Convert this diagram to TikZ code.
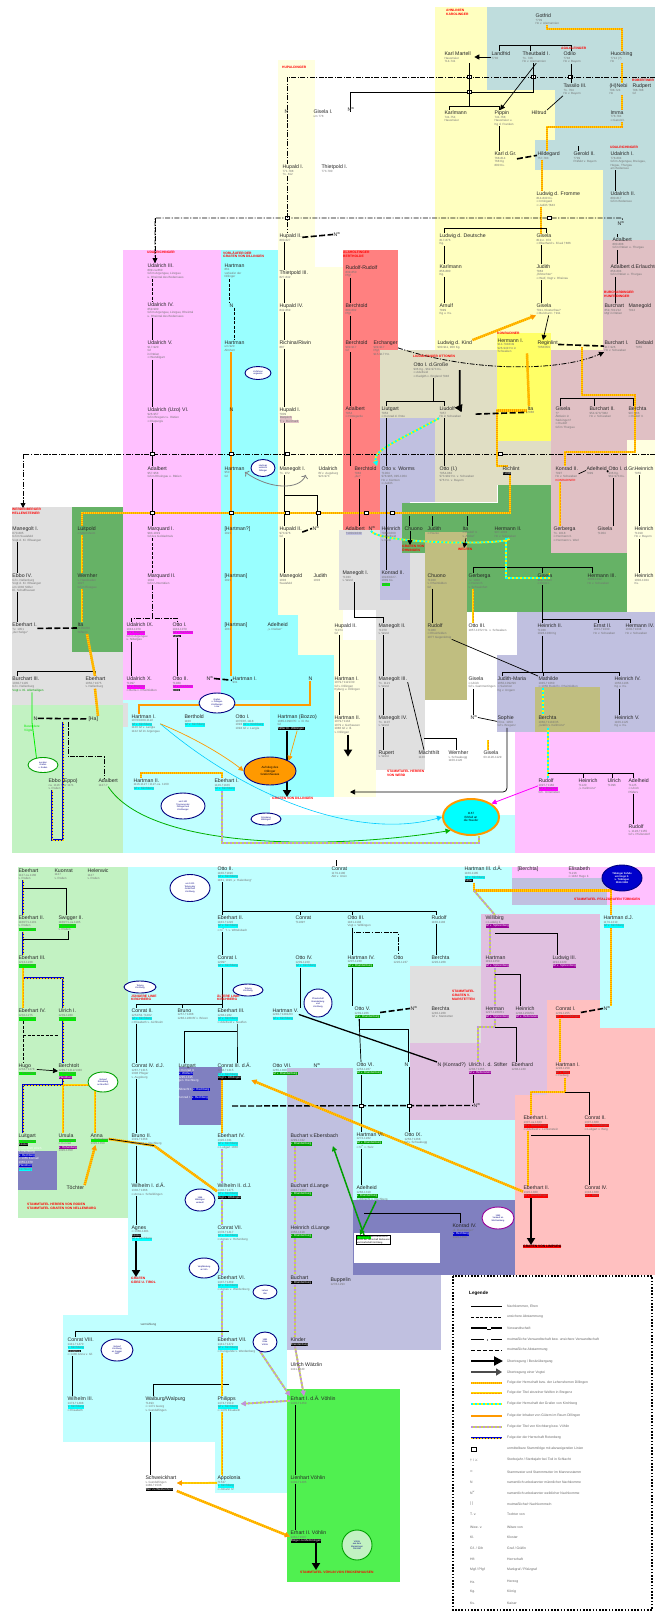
\documentclass[tikz,border=0pt]{standalone}
\usepackage{fontspec}
\setmainfont{Liberation Sans}
\newfontfamily\symfont{DejaVu Sans}
\usetikzlibrary{arrows.meta,shapes.geometric}
\pgfdeclarelayer{bg}
\pgfdeclarelayer{mid}
\pgfsetlayers{bg,mid,main}
% region colours
\definecolor{cream}{HTML}{FFFFE0}
\definecolor{kyel}{HTML}{FFFFC0}
\definecolor{steel}{HTML}{BFDDDD}
\definecolor{pinkA}{HTML}{FFC0FF}
\definecolor{cyanA}{HTML}{99FFFF}
\definecolor{lcyan}{HTML}{C0FFFF}
\definecolor{redA}{HTML}{FF8080}
\definecolor{mauve}{HTML}{E0C0C4}
\definecolor{olgray}{HTML}{E0DEC4}
\definecolor{byel}{HTML}{FFFF66}
\definecolor{lav}{HTML}{C0C0E0}
\definecolor{grnA}{HTML}{66B266}
\definecolor{olive}{HTML}{C0BE80}
\definecolor{lgray}{HTML}{E0E0E0}
\definecolor{lgrn}{HTML}{C2F2C2}
\definecolor{slate}{HTML}{8080C0}
\definecolor{salmon}{HTML}{FFC0C0}
\definecolor{mpink}{HTML}{E0C0E0}
\definecolor{bgrn}{HTML}{50F050}
% line and highlight colours
\definecolor{gA}{HTML}{FFD700}
\definecolor{gB}{HTML}{FF9900}
\definecolor{yg}{HTML}{C8D850}
\definecolor{vio}{HTML}{C090E0}
\definecolor{navy}{HTML}{000080}
\definecolor{hcy}{HTML}{00FFFF}
\definecolor{mag}{HTML}{FF00FF}
\definecolor{hgr}{HTML}{00EE00}
\definecolor{dgr}{HTML}{00A000}
\definecolor{hred}{HTML}{FF0000}
\definecolor{hpur}{HTML}{990099}
\definecolor{hblu}{HTML}{0000CC}
% helpers
\newcommand\nm[1]{{\fontsize{5.2}{5.6}\selectfont\color{black!85}#1}}
\newcommand\hc[2]{{\setlength{\fboxsep}{0.3pt}\colorbox{#1}{#2}}}
\newcommand\hw[1]{{\setlength{\fboxsep}{0.3pt}\colorbox{black}{\textcolor{white}{#1}}}}
\newcommand\pers[5]{\node[P] (#1) at (#2,#3) {\nm{#4}\\[0.4pt]#5};}
\newcommand\persn[4]{\node[P] (#1) at (#2,#3) {\nm{#4}};}
\newcommand\vl[3][con]{\draw[#1] ([xshift=5pt]#2.south west) -- ([xshift=5pt]#2.south west |- #3.north west);}
\newcommand\brk[3]{\draw[con] ([xshift=5pt]#1.south west) -- ([xshift=5pt,yshift=4pt]#1.south west |- #2.north west);
  \draw[con] ([xshift=5pt]#2.north west) -- ++(0,4pt) -| ([xshift=5pt]#3.north west);}
\newcommand\tk[1]{\draw[con] ([xshift=5pt]#1.north west) -- ++(0,4pt);}
\newcommand\jnc[3]{\node[jn] (#1) at (#2,#3) {};}
\begin{document}
\begin{tikzpicture}[x=1pt,y=-1pt,
  P/.style={anchor=north west,inner sep=0.3pt,align=left,font=\fontsize{3}{3.5}\selectfont,text=black!55},
  LB/.style={anchor=north west,inner sep=0pt,align=left,font=\fontsize{3.3}{3.8}\selectfont\bfseries,text=hred},
  LG/.style={anchor=west,inner sep=0pt,font=\fontsize{3.4}{4}\selectfont,text=black!60},
  con/.style={line width=0.7pt},
  dd/.style={line width=0.8pt,dash pattern=on 5pt off 1.5pt on 1.2pt off 1.5pt},
  dsh/.style={line width=0.7pt,dash pattern=on 3pt off 1.5pt},
  vsw/.style={line width=1.6pt,dash pattern=on 6pt off 2.5pt},
  gold/.style={line width=2.4pt,draw=gA,postaction={draw=gB,line width=2.4pt,dash pattern=on 1pt off 1pt}},
  ydl/.style={line width=1.8pt,draw=gA,postaction={draw=gB,line width=0.7pt,dash pattern=on 2pt off 1pt}},
  cyl/.style={line width=1.8pt,draw=yellow,postaction={draw=hcy,line width=1.8pt,dash pattern=on 2pt off 2pt}},
  orl/.style={line width=1.5pt,draw=gB},
  pyl/.style={line width=1.8pt,draw=yg,postaction={draw=vio,line width=1.8pt,dash pattern=on 2pt off 2pt}},
  bll/.style={line width=1.8pt,draw=hblu,postaction={draw=gA,line width=0.6pt,dash pattern=on 2pt off 1pt}},
  tip/.style={-{Triangle[length=5pt,width=5pt]}},
  big/.style={line width=1.8pt,-{Triangle[length=7pt,width=8pt]}},
  ell/.style={ellipse,draw=navy,line width=0.9pt,fill=white,inner sep=0.3pt,align=center,font=\fontsize{2.2}{2.5}\selectfont,text=navy},
  jn/.style={draw,fill=white,line width=0.5pt,minimum width=4pt,minimum height=3pt,inner sep=0pt},
  tbox/.style={draw,line width=0.6pt,fill=white,inner sep=0.6pt,anchor=north west,align=left,font=\fontsize{2.3}{2.7}\selectfont}]
\useasboundingbox (0,0) rectangle (655,1612);

% ---------------- coloured family areas ----------------
\begin{pgfonlayer}{bg}
\fill[white] (0,0) rectangle (655,1612);
\fill[cream] (278,60) rectangle (315,267);
\fill[cream] (278,267) rectangle (343,655);
\fill[cream] (334,640) rectangle (376,797);
\fill[pinkA] (123,250) rectangle (221,700);
\fill[cyanA] (221,250) rectangle (278,655);
\fill[cyanA] (221,615) rectangle (298,655);
\fill[cyanA] (221,655) rectangle (334,700);
\fill[cyanA] (270,700) rectangle (334,797);
\fill[lcyan] (123,700) rectangle (270,853);
\fill[lcyan] (270,815) rectangle (515,853);
\fill[lgray] (12,507) rectangle (123,705);
\fill[lgray] (63,703) rectangle (128,727);
\fill[grnA] (72,507) rectangle (123,652);
\fill[lgrn] (12,705) rectangle (123,853);
\fill[lgrn] (12,727) rectangle (63,853);
\fill[redA] (343,250) rectangle (398,350);
\fill[redA] (343,350) rectangle (380,542);
\fill[kyel] (435,7) rectangle (487,90);
\fill[kyel] (435,90) rectangle (555,140);
\fill[kyel] (435,140) rectangle (535,170);
\fill[kyel] (435,170) rectangle (603,350);
\fill[steel] (487,7) rectangle (655,90);
\fill[steel] (555,90) rectangle (655,140);
\fill[steel] (535,140) rectangle (655,170);
\fill[steel] (603,170) rectangle (655,240);
\fill[mauve] (603,240) rectangle (655,350);
\fill[mauve] (551,350) rectangle (655,555);
\fill[cream] (627,440) rectangle (655,612);
\fill[lgray] (339,530) rectangle (427,610);
\fill[lgray] (376,610) rectangle (425,770);
\fill[olgray] (380,350) rectangle (497,502);
\fill[olgray] (497,441) rectangle (551,485);
\fill[byel] (497,333) rectangle (551,441);
\fill[lav] (380,418) rectangle (435,502);
\fill[lav] (380,502) rectangle (410,600);
\fill[grnA] (402,503) rectangle (551,553);
\fill[grnA] (498,485) rectangle (551,503);
\fill[grnA] (467,553) rectangle (627,612);
\fill[olive] (425,532) rectangle (467,700);
\fill[lav] (517,612) rectangle (655,655);
\fill[lav] (497,655) rectangle (655,732);
\fill[olive] (535,687) rectangle (600,732);
\fill[pinkA] (515,732) rectangle (655,853);
% lower half
\fill[lgrn] (18,867) rectangle (128,1218);
\fill[lcyan] (128,867) rectangle (547,1200);
\fill[lcyan] (128,1200) rectangle (287,1315);
\fill[lcyan] (63,1315) rectangle (287,1442);
\fill[lcyan] (215,1442) rectangle (287,1493);
\fill[lcyan] (547,867) rectangle (655,1028);
\fill[pinkA] (512,867) rectangle (655,905);
\fill[lav] (512,878) rectangle (607,905);
\fill[lgray] (410,966) rectangle (481,1043);
\fill[mpink] (481,914) rectangle (600,1043);
\fill[mpink] (410,1043) rectangle (547,1120);
\fill[salmon] (547,1000) rectangle (600,1028);
\fill[salmon] (547,1028) rectangle (655,1095);
\fill[salmon] (515,1095) rectangle (655,1275);
\fill[lav] (287,1068) rectangle (353,1350);
\fill[lav] (353,1275) rectangle (441,1350);
\fill[slate] (353,1200) rectangle (515,1275);
\fill[white] (354,1233) rectangle (440,1263);
\fill[slate] (179,1067) rectangle (222,1125);
\fill[slate] (18,1151) rectangle (57,1190);
\fill[bgrn] (287,1389) rectangle (400,1582);
\fill[white] (453,1276) rectangle (652,1610);
\end{pgfonlayer}

% ---------------- family names ----------------
\node[LB] (lbKar) at (446,9) {AHNLINIEN\\KAROLINGER};
\node[LB] (lbAgi) at (561,47) {AGILOLFINGER};
\node[LB] (lbRob) at (632,79) {ROBERTINER};
\node[LB] (lbUd1) at (610,146) {UDALRICHINGER};
\node[LB] (lbHup) at (282,66) {HUPALDINGER};
\node[LB] (lbUd2) at (147,251) {UDALRICHINGER};
\node[LB] (lbVor) at (223,251) {VORLÄUFER DER\\GRAFEN VON DILLINGEN};
\node[LB] (lbAla) at (343,251) {ALAHOLFINGER\\BERTHOLDE};
\node[LB] (lbBur) at (604,291) {BURCHARDINGER\\HUNFRIDINGER};
\node[LB] (lbKon) at (497,332) {KONRADINER};
\node[LB] (lbLiu) at (413,355) {LIUDOLFINGER OTTONEN};
\node[LB] (lbWer) at (12,508) {WERDENBERGER\\HELLENSTEINER};
\node[LB] (lbJue) at (131,994) {JÜNGERE LINIE\\KIRCHBERG};
\node[LB] (lbAel) at (217,994) {ÄLTERE LINIE\\KIRCHBERG};

% Karolinger, Agilolfinger, Udalrichinger (top right)
\pers{gotfrid}{535}{13}{Gotfrid}{†709\\Hz v. Alemannien}
\pers{karlm}{444}{51}{Karl Martell}{Hausmeier\\714-741}
\pers{landfrid}{491}{51}{Landfrid}{†730}
\pers{theutbald}{522}{51}{Theutbald I.}{†n. 746\\Hz v. Alemannien}
\pers{odilo}{563}{51}{Odilo}{†748\\Hz v. Bayern}
\pers{huoching}{610}{51}{Huoching}{†712 (?)\\Hz}
\pers{tassilo}{563}{83}{Tassilo III.}{†n. 794\\Hz v. Bayern}
\pers{nebi}{609}{83}{(H)Nebi}{708-724\\Hz}
\pers{rudpert}{632}{83}{Rudpert}{708-788\\Gf}
\pers{karlmann}{444}{110}{Karlmann}{741-754\\Hausmeier}
\pers{pippin}{494}{110}{Pippin}{741-768\\Hausmeier u.\\Kg d. Franken}
\persn{hiltrud}{531}{110}{Hiltrud}
\pers{imma}{610}{110}{Imma}{778-784\\∞ Gerold I.}
\pers{karlgr}{494}{151}{Karl d.Gr.}{768-814\\768 Kg\\800 Ks.}
\pers{hildegard}{537}{151}{Hildegard}{757-783}
\pers{gerold}{573}{151}{Gerold II.}{†799\\Präfekt v. Bayern}
\pers{udI}{610}{151}{Udalrich I.}{778-804\\Gf im Argengau, Breisgau,\\Hegau, Thurgau\\am Bodensee}
\pers{ludfr}{536}{191}{Ludwig d. Fromme}{814-840 Ks.\\∞ Irmingard\\∞ Judith †843}
\pers{udII}{610}{191}{Udalrich II.}{800-817\\Gf im Bodensee}
\persn{nA1}{617}{221}{N\textsuperscript{w}}
\pers{luddt}{439}{233}{Ludwig d. Deutsche}{817-876\\Kg.}
\pers{gisela1}{536}{233}{Gisela}{819-n. 874\\∞ Eberhard v. Friaul †866}
\pers{adalbA}{612}{237}{Adalbert}{800-808\\Gf in Rätien u. Thurgau}
\pers{karlmann2}{439}{264}{Karlmann}{856-880\\Kg.}
\pers{judith}{536}{264}{Judith}{†863\\„Erbtochter“\\∞ Welf, Vogt v. Rheinau}
\pers{adalbE}{610}{264}{Adalbert d.Erlauchte}{858-894\\Gf in Rätien u. Thurgau}
\pers{arnulf}{439}{303}{Arnulf}{†899\\Kg u. Ks.}
\pers{gisela2}{536}{303}{Gisela}{†911, Klosterfrau?\\∞ Burchart I. †911}
\pers{burchart0}{604}{303}{Burchart}{859-†911/12\\Mgf in Rätien}
\pers{manegold0}{628}{303}{Manegold}{†912}

% Hupaldinger
\persn{nHa}{284}{109}{N}
\pers{giselaI}{313}{109}{Gisela I.}{um 778}
\persn{nHb}{347}{107}{N\textsuperscript{w}}
\pers{hupI}{282}{164}{Hupald I.}{771-788\\†n. 812}
\pers{thietI}{321}{164}{Thietpold I.}{773-790}
\pers{hupII}{279}{233}{Hupald II.}{800-827}
\persn{nHc}{333}{232}{N\textsuperscript{w}}
\pers{thietIII}{279}{270}{Thietpold III.}{827-842}
\pers{hupIV}{279}{303}{Hupald IV.}{842-869}
\pers{richina}{279}{340}{Richina/Riwin}{887}
\pers{hupIb}{279}{407}{Hupald I.}{†909\\\hc{mauve}{Dietpirch}\\\hc{mauve}{T. v. Burchard}}
\pers{manegI}{279}{466}{Manegolt I.}{†n. 972}
\pers{udalrichB}{318}{466}{Udalrich}{Bf v. Augsburg\\923-973}
\pers{hupIIb}{279}{526}{Hupald II.}{973-976\\Gf}
\persn{nHd}{312}{526}{N\textsuperscript{w}}
\pers{manegB}{279}{573}{Manegold}{1003\\Sualafeld}
\pers{judith2}{313}{573}{Judith}{1003}
\pers{adelheid}{267}{622}{Adelheid}{„v. Dießen“}

% Udalrichinger (pink)
\pers{udIII}{147}{263}{Udalrich III.}{809-ca.860\\Gf im Argengau, Linzgau\\u. Rheintal des Bodensees}
\pers{udIV}{147}{302}{Udalrich IV.}{859-900\\Gf im Argengau, Linzgau, Rheintal\\u. Rheintal des Bodensees}
\pers{udV}{147}{340}{Udalrich V.}{917-920\\Gf\\in Rätien\\∞ Wendilgart}
\pers{udVI}{147}{407}{Udalrich (Uzo) VI.}{926-957\\Gf in Bregenz u. Rätien\\∞ Diepurgis}
\pers{adalbU}{147}{466}{Adalbert}{957-958\\Gf im Rheingau u. Rätien}
\pers{marqI}{147}{526}{Marquard I.}{983-1019\\Gf des Goldachtals}
\pers{marqII}{147}{573}{Marquard II.}{1032\\Gf in Unterrätien}
\pers{udIX}{126}{622}{Udalrich IX.}{1043-1079\\\hc{mag}{Gf v. Bregenz}\\Gf im Argengau\\u. Nibelgau}
\pers{ottoIP}{172}{622}{Otto I.}{1043-1079\\\hc{mag}{Gf v. Buchhorn}\\\hw{Stifter}}
\pers{udX}{126}{676}{Udalrich X.}{†1097\\\hc{mag}{Gf v. Bregenz}\\∞ Berta v. Rheinfelden}
\pers{ottoIIP}{172}{676}{Otto II.}{†1089\\\hc{mag}{Gf v. Buchhorn}\\\hw{1089}}

% Vorläufer der Dillinger (cyan)
\pers{hart1}{224}{263}{Hartman}{861\\vorläufer der\\Dillinger}
\persn{nH1}{229}{303}{N}
\pers{hart2}{224}{340}{Hartman}{um 920\\Ahnherr}
\persn{nH2}{229}{407}{N}
\pers{hart3}{224}{466}{Hartman}{950\\Gf}
\pers{hart4}{224}{526}{[Hartman?]}{1021}
\pers{hart5}{224}{573}{[Hartman]}{1021}
\pers{hart6}{224}{622}{[Hartman]}{1031}
\persn{nH3}{206}{676}{N\textsuperscript{w}}
\pers{hartI}{232}{676}{Hartman I.}{931}
\persn{nH4}{308}{676}{N}

% Werdenberger, Nellenburger, Roden
\pers{manW}{12}{526}{Manegolt I.}{870-895\\Gf im Sualafeld\\Vogt d. Kl. Ellwangen}
\pers{ebboIV}{12}{573}{Ebbo IV.}{Gf v. Nellenburg\\Vogt d. Kl. Ellwangen\\um 1030 Stifter\\Kl. Schaffhausen}
\pers{eberI}{12}{622}{Eberhart I.}{†v. 1051\\„der Selige“}
\pers{luitpold}{77}{526}{Luitpold}{∞ Mörnsheim}
\pers{wernher}{77}{573}{Wernher}{v. Hausbaden\\1027\\Gf im Riesgau}
\pers{ita}{77}{622}{Ita}{†1050/60\\Stifterin}
\pers{burIII}{12}{676}{Burchart III.}{1030-†1105\\Gf v. Nellenburg\\\textcolor{dgr}{Vogt v. Kl. Allerheiligen}}
\pers{eberN}{85}{676}{Eberhart}{1050-†1075\\v. Nellenburg}
\persn{nW}{33}{716}{N}
\persn{haW}{88}{716}{[Ha]}
\pers{ebbo}{48}{778}{Ebbo (Eppo)}{ca. 1116 †vor 1171\\v. Roden}
\pers{adalbE2}{98}{778}{Adalbert}{1127-?}
\node[anchor=north west,inner sep=0pt,font=\fontsize{3.2}{3.8}\selectfont,text=hgr,align=left] (vogt) at (24,725) {Besondere\\Vögte};

% Kirchberg (first generations)
\pers{hartIk}{131}{714}{Hartman I.}{1070/1080-1122\\\hc{hcy}{Gf v. Kirchberg}\\1120 Gf v. Langla\\1122 Gf im Argengau}
\pers{berth}{184}{714}{Berthold}{1100\\\hc{hcy}{Gf v. Kirchberg}}
\pers{ottoIk}{235}{714}{Otto I.}{1070/87-1118\\1093 \hc{hcy}{Gf v. Kirchberg}\\1094 Gf v. Langla}
\pers{hartBz}{277}{714}{Hartman (Bozzo)}{1085-1099 Pfr. v. Ill. Bo\\Gf\\\hw{Stifter Kl. Wiblingen}}
\pers{hartIIk}{133}{778}{Hartman II.}{1116-1127 / 1127-ca. 1160\\\hc{hcy}{Gf v. Kirchberg}}
\pers{eberIk}{214}{778}{Eberhart I.}{1126-†1166\\\hc{hcy}{Gf v. Kirchberg}}

% Dillinger, Werd, Rheinfelden, Salier
\pers{hartIr}{334}{676}{Hartman I.}{1079-†1121/30\\Gf v. Dillingen\\Kyburg u. Dillingen}
\pers{manIII}{378}{676}{Manegolt III.}{†n. 1121\\v. Werd}
\pers{gisela3}{468}{676}{Gisela}{∞ Ulrich\\Gf v. Gammertingen}
\pers{judM}{497}{676}{Judith-Maria}{1050-1092/96\\∞ Salomon\\Kg v. Ungarn}
\pers{mathilde}{538}{676}{Mathilde}{1045-†1060\\∞ 1059 Rudolf v. Rheinfelden}
\pers{heinrIV}{614}{676}{Heinrich IV.}{1056-1106\\Kg u. Ks.}
\pers{hartIIr}{334}{715}{Hartman II.}{1079-†1134\\1079 v. Gerhausen\\1086 Gf v. Ill.\\v. Dillingen}
\pers{manIV}{378}{715}{Manegolt IV.}{†n. 1107\\v. Werd}
\persn{nG}{470}{715}{N\textsuperscript{w}}
\pers{sophie}{497}{715}{Sophie}{Prinz. 1050\\Gf v. Bregenz}
\pers{berchta2}{538}{715}{Berchta}{1060-†1133/35\\„Gräfin v. Kellmünz“}
\pers{heinrV}{614}{715}{Heinrich V.}{1106-1125\\Kg u. Ks.}
\pers{rupert}{378}{750}{Rupert}{v. Werd}
\pers{maech}{418}{750}{Mächthilt}{1120}
\pers{wernher2}{448}{750}{Wernher}{v. Schwabegg\\1100-1120}
\pers{gisela4}{483}{750}{Gisela}{03.1120-1129}
\pers{rudB}{538}{778}{Rudolf}{1097-†1160\\\hc{mag}{Gf v. Bregenz}\\Gf i. Unterrätien}
\pers{heinB}{578}{778}{Heinrich}{†1120\\„v. Kellmünz“}
\pers{ulrB}{607}{778}{Ulrich}{†1096}
\pers{adelB}{628}{778}{Adelheid}{†1125\\∞ Ulrich\\Pfäfers}
\pers{rudB2}{628}{824}{Rudolf}{v. 1126-†1155\\Gf v. Pfullendorf}

% Alaholfinger, Konradiner, Ottonen, Burchardinger
\pers{rudR}{345}{265}{Rudolf-Rudolf}{839-850\\Pfgf}
\pers{bercht1}{345}{303}{Berchtold}{880-892\\Pfgf}
\pers{bercht2}{345}{340}{Berchtold}{909-917\\Gf}
\pers{erchanger}{373}{340}{Erchanger}{909-917\\Pfgf\\915-917 Hz.}
\pers{adalbR}{345}{406}{Adalbert}{†954\\∞ Hildegarde}
\pers{ludK}{437}{340}{Ludwig d. Kind}{900-911, 900 Kg.}
\pers{hermI}{497}{338}{Hermann I.}{914-†948/49\\926-949 Hz in\\Schwaben}
\pers{reginlint}{537}{340}{Reginlint}{†958/959}
\pers{burI}{604}{340}{Burchart I.}{917-926\\Hz v. Schwaben}
\pers{diebald}{635}{340}{Diebald}{†955}
\pers{ottoGr}{413}{362}{Otto I. d.Große}{936 Kg., 962-973 Ks.\\∞ Adelheid\\∞ Eadgith v. England †946}
\pers{liutgart}{381}{406}{Liutgart}{†953\\∞ Konrad d. Rote}
\pers{liudolf}{439}{406}{Liudolf}{†957\\Hz in Schwaben}
\pers{ita1}{527}{406}{Ita}{†986}
\pers{giselaM}{555}{406}{Gisela}{†?\\Äbtissin in\\Säckingen?\\∞ Rudolf\\Gf im Thurgau}
\pers{burII}{589}{406}{Burchart II.}{954-973/†982\\Hz v. Schwaben}
\pers{berchta1}{628}{406}{Berchta}{907-966\\∞ Rudolf II.}
\pers{berchtR}{354}{466}{Berchtold}{†983\\„der“}
\pers{ottoW}{381}{466}{Otto v. Worms}{†1004\\978-985, 995-1004\\Hz v. Kärnten\\∞ Judith}
\pers{ottoIb}{439}{466}{Otto (I.)}{†954-982\\973-982 Hz. v. Schwaben\\976 Hz. v. Bayern}
\pers{richlint}{502}{466}{Richlint}{\hw{†1000}}
\pers{konII}{555}{466}{Konrad II.}{†997\\Hz v. Schwaben\\\textcolor{hred}{KONRADINER}}
\pers{adelM}{586}{466}{Adelheid}{†999}
\pers{ottoGr2}{608}{466}{Otto I. d.Gr.}{936 Kg.\\962-973 Ks.}
\pers{heinM}{634}{466}{Heinrich}{†955}
\pers{adalbR2}{345}{526}{Adalbert}{\hc{lav}{†1001/1030}}
\persn{nR2}{368}{526}{N\textsuperscript{w}}
\pers{heinr2}{381}{526}{Heinrich}{†989/1000\\∞ Adelheid\\v. Metz}
\persn{chuono}{404}{526}{Chuono}
\pers{judith3}{427}{526}{Judith}{∞ Hezzo}
\pers{ita2}{462}{526}{Ita}{∞ Rudolf II.\\v. Altdorf}
\pers{hermII}{494}{526}{Hermann II.}{997-1003\\Hz v. Schwaben}
\pers{gerberga}{553}{526}{Gerberga}{†n. 1018\\∞ Hermann II.\\∞ Hermann v. Werl}
\pers{gisela5}{597}{526}{Gisela}{†1004}
\pers{heinR}{634}{526}{Heinrich}{†1019\\Hz v. Bayern}
\pers{konII2}{381}{570}{Konrad II.}{1024/1027-\\1039 Ks.\\\hc{hgr}{Salier}}
\pers{chuono2}{427}{573}{Chuono}{†1020\\v. Rheinfelden\\Gf}
\pers{gerberga2}{468}{573}{Gerberga}{†v. 1020\\∞ Heinrich\\v. Schweinfurt}
\pers{gisela6}{537}{573}{Gisela}{989-†1043\\∞ Ernst I.}
\pers{hermIII}{587}{573}{Hermann III.}{1003-1012\\Hz v. Schwaben}
\pers{heinR2}{634}{573}{Heinrich}{1002-1024\\Ks.}
\pers{manIb}{342}{570}{Manegolt I.}{†1033\\v. Werd}
\pers{hupIIc}{334}{623}{Hupald II.}{†1074\\Gf}
\pers{manII}{378}{623}{Manegolt II.}{†1070\\v. Werd}
\pers{rudO}{427}{623}{Rudolf}{†1080\\∞ Rheinfelden\\1077 Gegenkönig}
\pers{ottoIII}{468}{623}{Otto III.}{1057-1072 Hz. v. Schwaben}
\pers{heinII}{537}{623}{Heinrich II.}{†1038\\1028-1039 Kg}
\pers{ernstII}{593}{623}{Ernst II.}{1015-†1030\\Hz v. Schwaben}
\pers{hermIV}{625}{623}{Hermann IV.}{1030-†1038\\Hz v. Schwaben}
\node[LB] (lbOhn) at (402,545) {GRAFEN VON\\ÖHNINGEN};
\node[LB] (lbWelf) at (458,548) {WELFEN};
\node[LB] (lbDil) at (272,797) {GRAFEN VON DILLINGEN};
\node[LB] (lbWerd) at (387,770) {STAMMTAFEL HERREN\\VON WERD};

% ---------------- lower half ----------------
% Roden (light green)
\pers{eberB}{18}{868}{Eberhart}{1127-ca.1160\\v. Roden}
\pers{kuonrat}{54}{868}{Kuonrat}{1127\\v. Roden}
\pers{helenwic}{87}{868}{Helenwic}{1127\\v. Roden}
\pers{eberIIg}{18}{915}{Eberhart II.}{1160/71-1191\\v. Roden\\\hc{hgr}{v. Rotenberg}}
\pers{swigII}{58}{915}{Swigger II.}{1160/71-ca.1185\\\hc{hgr}{v. Rotenberg}\\v. Roden}
\pers{eberIIIg}{18}{955}{Eberhart III.}{1213-1228\\\hc{hgr}{v. Rotenberg}}
\pers{eberIVg}{18}{1008}{Eberhart IV.}{1232-1275\\\hc{hgr}{v. Rotenberg}}
\pers{ulrIg}{58}{1008}{Ulrich I.}{1239-1280\\\hc{hgr}{v. Rotenberg}}
\pers{hugo}{18}{1063}{Hugo}{1234-†1278\\\hc{hgr}{v. Rotenberg}}
\pers{berchtolt}{58}{1063}{Berchtolt}{1239-†1312/1330\\\hc{hgr}{v. Rotenberg}\\\hc{hpur}{\textcolor{white}{Pfandherr}}}
\pers{luitG}{18}{1133}{Luitgart}{\hc{hgr}{v. Rotenberg}\\\hw{Kloster}\\\textcolor{white}{∞ um 1320 Ulrich}\\\textcolor{white}{v. Rechberg}\\\hc{hblu}{\textcolor{white}{v. Rechberg}}\\\textcolor{white}{∞ 1355 Konrad}\\\textcolor{white}{1355-1370}\\\hc{hblu}{\textcolor{white}{Pfandherr}}\\\hc{hcy}{Kirchberg}}
\pers{ursula}{58}{1133}{Ursula}{\hc{hgr}{v. Rotenberg}\\∞ Konrad\\\hc{hpur}{\textcolor{white}{v. Hohenberg}}\\1320-1350}
\pers{anna}{90}{1133}{Anna}{\hc{hgr}{v. Rotenberg}\\1320-1350}
\persn{toechter}{66}{1185}{Töchter}
\node[LB] (lbRod) at (27,1203) {STAMMTAFEL HERREN VON RODEN\\STAMMTAFEL GRAFEN VON NELLENBURG};

% Kirchberg (light cyan)
\pers{ottoIIk}{217}{866}{Otto II.}{1160-†1196\\\hc{hcy}{Gf v. Kirchberg}\\1181, 1196 „v. Halenberg“}
\pers{eberIIk}{217}{915}{Eberhart II.}{1183-†1220\\\hc{hcy}{Gf v. Kirchberg}\\∞ N\textsuperscript{w} T. v. Wittelsbach}
\pers{conrat1}{295}{915}{Conrat}{†1189?}
\pers{conIk}{217}{955}{Conrat I.}{1209?\\\hc{hcy}{Gf v. Kirchberg}}
\pers{ottoIVk}{295}{955}{Otto IV.}{1209-1220\\\hc{hcy}{Gf v. Kirchberg}}
\pers{conIIk}{131}{1008}{Conrat II.}{1252/53-†1282\\\hc{hcy}{Gf v. Kirchberg}\\∞ Elisabeth v. Aichheim}
\pers{bruno}{177}{1008}{Bruno}{1257-†1288\\1286-1288 Bf v. Brixen}
\pers{eberIIIk}{217}{1008}{Eberhart III.}{1238-1282\\\hc{hcy}{Gf v. Kirchberg}\\∞ Adelheid v. Neuffen}
\pers{hartV}{272}{1008}{Hartman V.}{1240-†1281/83\\\hc{hcy}{Gf v. Kirchberg}}
\pers{conIVk}{131}{1063}{Conrat IV. d.J.}{1287-†1315\\1308 Pfleger\\v. Augsburg}
\pers{luitK}{178}{1063}{Luitgart}{\textcolor{white}{∞ Konrad II.}\\\hc{hblu}{\textcolor{white}{v. Wolfach}}\\\textcolor{white}{1295-1315}\\\textcolor{white}{gen. Rechberg}\\[5pt]\textcolor{white}{Albrecht I.} \hc{hblu}{\textcolor{white}{v. Rechberg}}\\[5pt]\textcolor{white}{Konrad I.} \hc{hblu}{\textcolor{white}{v. Rechberg}}}
\pers{conIIIk}{217}{1063}{Conrat III. d.Ä.}{1268-†1315\\\hc{hcy}{Gf v. Kirchberg}\\\hw{Vogt v. Wiblingen}}
\pers{ottoVII}{272}{1063}{Otto VII.}{1265-1300\\\hc{dgr}{\textcolor{white}{Gf v. Brandenburg}}}
\persn{nK}{313}{1063}{N\textsuperscript{w}}
\pers{brunoII}{131}{1133}{Bruno II.}{1319-†1368\\∞ Luitgart v. Rechberg}
\pers{eberIVk}{217}{1133}{Eberhart IV.}{1320-1331\\\hc{hcy}{Gf v. Kirchberg}\\∞ Luitgart 1368}
\pers{buchEb}{290}{1133}{Buchart v.Ebersbach}{1299-1332\\\hc{dgr}{\textcolor{white}{v. Brandenburg}}}
\pers{wilI}{131}{1183}{Wilhelm I. d.Ä.}{1336-†1366\\∞ Anna v. Schelklingen}
\pers{wilII}{217}{1183}{Wilhelm II. d.J.}{1336-†1375\\\hc{hcy}{Gf v. Kirchberg}\\\hw{Vogt v. Wiblingen}}
\pers{buchL}{290}{1183}{Buchart d.Lange}{1343-†1387\\\hc{dgr}{\textcolor{white}{v. Brandenburg}}}
\pers{agnes}{131}{1225}{Agnes}{∞ 1369-1401\\\hw{Kloster}\\\hc{hcy}{Gf v. Kirchberg}}
\pers{conVII}{217}{1225}{Conrat VII.}{1378-†1417\\\hc{hcy}{Gf v. Kirchberg}\\∞ Agnes v. Hohenberg}
\pers{heinL}{290}{1225}{Heinrich d.Lange}{1356-1418\\\hc{dgr}{\textcolor{white}{v. Brandenburg}}}
\pers{eberVI}{217}{1275}{Eberhart VI.}{1437-†1469\\\hc{hcy}{Gf v. Kirchberg}\\∞ Agnes v. Werdenberg}
\pers{buch2}{290}{1275}{Buchart}{\hw{v. Brandenburg}}
\pers{conVIII}{67}{1337}{Conrat VIII.}{1441-†1470\\\hc{hcy}{v. Kirchberg}\\\hw{Kinderlos}\\∞ 1436 Anna v. Gf.}
\pers{eberVII}{217}{1337}{Eberhart VII.}{1441-†1472\\\hc{hcy}{Gf v. Kirchberg}\\∞ Kunigunde v. Werdenberg}
\pers{kinder}{290}{1337}{Kinder}{\hw{Brandenburg}}
\pers{ulrW}{290}{1362}{Ulrich Wätzlin}{1411-1440}
\pers{wilIII}{67}{1396}{Wilhelm III.}{1473-†1488\\\hc{hcy}{v. Kirchberg}\\∞ Elisabeth}
\pers{walburg}{145}{1396}{Walburg/Walpurg}{†1493\\∞ 1471 Georg\\v. Gundelfingen}
\pers{philipps}{217}{1396}{Philipps}{1473-†1510\\\hc{hcy}{Gf v. Kirchberg}\\∞ 1479 Elisabeth}
\pers{erhartI}{290}{1396}{Erhart I. d.Ä. Vöhlin}{1430-†1450}
\pers{schweick}{145}{1475}{Schweickhart}{v. Gundelfingen\\1480-†1536\\\hw{Herr zu Weißenhorn}}
\pers{appol}{217}{1475}{Appolonia}{†1537\\\hc{hcy}{v. Kirchberg}\\∞ Johann IV.}
\pers{lienhart}{290}{1475}{Lienhart Vöhlin}{1430-†1495}
\pers{erhartII}{290}{1530}{Erhart II. Vöhlin}{1462-†1507\\\hw{Bürger zu Memmingen}}
\node[LB] (lbGoe) at (131,1277) {GRAFEN\\GÖRZ U. TIROL};
\node[LB] (lbVoe) at (300,1570) {STAMMTAFEL VÖHLIN VON FRICKENHAUSEN};

% Montfort, Werdenberg, Marstetten (right side)
\pers{conratB}{331}{866}{Conrat}{1179-1180\\Abt v. Ursin}
\pers{hartIIIdA}{464}{866}{Hartman III. d.Ä.}{1160-1185\\\hc{hcy}{Gf v. Kirchberg}\\\hw{Stifter}}
\persn{berchtaB}{517}{866}{[Berchta]}
\pers{elisab}{568}{866}{Elisabeth}{†1216\\∞ 1182 Hugo II.}
\pers{ottoIII2}{347}{915}{Otto III.}{1181-1194\\Vogt v. Wiblingen}
\pers{rudK}{431}{915}{Rudolf}{1160-1183}
\pers{willibirg}{485}{915}{Willibirg}{∞ Ludwig II.\\\hc{hpur}{\textcolor{white}{Gf v. Spitzenberg}}}
\pers{hartdJ}{603}{915}{Hartman d.J.}{1179-1210\\\hc{hcy}{Gf v. Kirchberg}}
\pers{hartIV}{347}{955}{Hartman IV.}{1207-1230\\\hc{dgr}{\textcolor{white}{Gf v. Brandenburg}}}
\pers{ottoK}{393}{955}{Otto}{1220-1237}
\pers{berchtaK}{431}{955}{Berchta}{1220-1268}
\pers{hartW}{485}{955}{Hartman}{1194-1250\\\hc{hpur}{\textcolor{white}{Gf v. Spitzenberg}}}
\pers{ludIII}{552}{955}{Ludwig III.}{1194-1220\\\hc{hpur}{\textcolor{white}{Gf v. Spitzenberg}}}
\pers{ottoV}{354}{1006}{Otto V.}{1239-1266\\\hc{dgr}{\textcolor{white}{Gf v. Brandenburg}}}
\persn{nV}{410}{1006}{N\textsuperscript{w}}
\pers{berchta3}{431}{1006}{Berchta}{1240-1268\\\hc{lgray}{Gf v. Marstetten}}
\pers{herman}{485}{1006}{Herman}{1227-1260/61\\\hc{hpur}{\textcolor{white}{Gf v. Spitzenberg}}}
\pers{heinW}{515}{1006}{Heinrich}{1238-1258/59\\\hc{hpur}{\textcolor{white}{Gf v. Helfenstein}}}
\pers{conIs}{555}{1006}{Conrat I.}{1239-1255\\\hc{hred}{Gf v. Schelklingen}}
\persn{nS}{603}{1006}{N\textsuperscript{w}}
\pers{ottoVI}{356}{1062}{Otto VI.}{1253-1267\\\hc{dgr}{\textcolor{white}{Gf v. Brandenburg}}}
\persn{nO}{404}{1062}{N}
\persn{nKon}{437}{1062}{N (Konrad?)}
\pers{ulrStift}{468}{1062}{Ulrich I. d. Stifter}{1238-†1265\\\hc{hpur}{\textcolor{white}{Gf v. Helfenstein}}}
\pers{eberhard}{511}{1062}{Eberhard}{1238-1240}
\pers{hartIs}{555}{1062}{Hartman I.}{1228-1258\\\hc{hred}{Gf v. Berg}\\∞ Hedwig}
\persn{nU}{473}{1103}{N\textsuperscript{w}}
\pers{eberIs}{523}{1115}{Eberhart I.}{1307-ca.1323\\\hc{hred}{Gf v. Schelklingen}\\∞ Adelheid v. Lichtenstein}
\pers{conIIs}{584}{1115}{Conrat II.}{1307-1360\\\hc{hred}{Gf v. Schelklingen}\\∞ Luitgart v. Berg}
\pers{hartVI}{356}{1132}{Hartman VI.}{1272-1282\\\hc{dgr}{\textcolor{white}{Gf v. Brandenburg}}\\∞ N\textsuperscript{w} v. Sulz}
\pers{ottoIX}{404}{1132}{Otto IX.}{1256-†1268\\Gf v. Schwabegg}
\pers{adelK}{356}{1185}{Adelheid}{1268-1310\\\hc{dgr}{\textcolor{white}{v. Brandenburg}}\\∞ Albrecht v. Rechberg}
\pers{eberIIs}{523}{1185}{Eberhart II.}{1320-1360\\\hc{hred}{Gf v. Schelklingen}}
\pers{conIVs}{584}{1185}{Conrat IV.}{1318-1360\\\hc{hred}{Gf v. Berg}}
\pers{konIV}{452}{1223}{Konrad IV.}{„d. Rechberger“\\\hc{hblu}{\textcolor{white}{v. Rechberg}}\\1320-1350}
\pers{buppelin}{330}{1277}{Buppelin}{1278-1293}
\node[LB] (lbMar) at (452,990) {STAMMTAFEL\\GRAFEN V.\\MARSTETTEN};
\node[LB,fill=hred,text=black] (lbLim) at (523,1245) {GRAFEN VON LIMPURG};
\node[LB] (lbTue) at (574,897) {STAMMTAFEL PFALZGRAFEN TÜBINGEN};
\node[tbox] (wbox) at (356,1235) {\hc{hgr}{v. Ebersberg} ab 1290/1310 in\\Besitz der Herrschaft Illerbeuren\\und Grafschaft Kirchberg};

% ---------------- ellipses ----------------
\node[ell,minimum width=26pt,minimum height=13pt] (e1) at (258,373) {Vorfahren\\ungewiss};
\node[ell,minimum width=24pt,minimum height=17pt] (e2) at (263,468) {Hartman\\vielleicht\\Dillinger};
\node[ell,minimum width=36pt,minimum height=20pt] (e3) at (217,703) {Grafen\\v. Dillingen\\Kirchberger\\Linie};
\node[ell,draw=dgr,minimum width=30pt,minimum height=15pt] (e4) at (43,765) {aus den\\Grafen\\v. Roden};
\node[ell,minimum width=44pt,minimum height=26pt] (e5) at (183,806) {um 1100\\Trennung der\\Dillinger und\\Kirchberger};
\node[ell,minimum width=30pt,minimum height=12pt] (e6) at (266,819) {Gründung\\Wiblingen};
\node[ell,fill=gB,minimum width=52pt,minimum height=28pt,font=\fontsize{3}{3.5}\selectfont,text=black] (eAuf) at (270,771) {Aufstieg des\\Dillinger\\Grafenhauses};
\node[ell,fill=hcy,draw=gB,line width=2pt,minimum width=56pt,minimum height=36pt,font=\fontsize{3}{3.5}\selectfont,text=black] (e1167) at (471,817) {1167\\Erbfall an\\die Staufer};
\node[ell,fill=hblu,minimum width=40pt,minimum height=26pt,text=white,font=\fontsize{2.6}{3}\selectfont\bfseries] (eTue) at (622,878) {Tübinger Fehde\\um Hugo II.\\v. Tübingen\\1164-1166};
\node[ell,minimum width=40pt,minimum height=27pt] (e7) at (190,888) {um 1200\\Teilung der\\Grafschaft\\Kirchberg};
\node[ell,minimum width=32pt,minimum height=12pt] (e8) at (140,987) {Teilung\\Kirchberg};
\node[ell,minimum width=30pt,minimum height=12pt] (e9) at (248,990) {Teilung\\Kirchberg};
\node[ell,minimum width=28pt,minimum height=28pt] (e10) at (318,1003) {Pfandschaft\\Brandenburg\\und\\Kirchberg};
\node[ell,draw=dgr,minimum width=30pt,minimum height=20pt] (e11) at (103,1082) {Verkauf\\Rotenberg\\an Montfort};
\node[ell,minimum width=30pt,minimum height=22pt] (e12) at (200,1200) {1366\\Wiblingen\\verkauft};
\node[ell,minimum width=30pt,minimum height=20pt] (e13) at (204,1268) {Verpfändung\\an Ulm};
\node[ell,minimum width=24pt,minimum height=14pt] (e14) at (265,1292) {Lehen\\Ulm};
\node[ell,minimum width=32pt,minimum height=22pt] (e15) at (117,1350) {Verkauf\\Kirchberg\\an Fugger\\1507};
\node[ell,minimum width=24pt,minimum height=20pt] (e16) at (265,1342) {1481\\Erbe\\Vöhlin};
\node[ell,draw=hpur,minimum width=32pt,minimum height=22pt] (e17) at (498,1218) {1343\\Verkauf an\\Württemberg};
\node[ell,draw=dgr,fill=lgrn,minimum width=30pt,minimum height=30pt] (e18) at (357,1545) {Vöhlin\\aus dem\\Memminger\\Patriziat};

% ---------------- connectors ----------------
\begin{pgfonlayer}{mid}
% upper dash-dot line (Hupaldinger ancestry)
\coordinate (l1e) at (655,77);
\coordinate (l1w) at (287,77);
\draw[dd] (l1e) -- (l1w) -- ([xshift=5pt]hupI.north west);
\jnc{jk1}{469}{77}\jnc{jk2}{533}{77}\jnc{jk3}{570}{77}
\jnc{jk4}{469}{92}
\draw[con] ([xshift=25pt]karlm.south west) -- ([xshift=25pt,yshift=4pt]karlm.south west |- karlmann.north west);
\draw[con] ([xshift=5pt]karlmann.north west) -- ++(0,4pt) -| ([xshift=5pt]pippin.north west);
\draw[con] (jk4) -| ([xshift=3pt]nHb.south west);
\draw[con] ([xshift=11pt]theutbald.south west) |- (jk4);
\draw[con] ([xshift=8pt]landfrid.north west) -- ++(0,6pt) -| ([xshift=8pt]odilo.north west);
\draw[con] ([xshift=8pt]theutbald.north west) -- ++(0,6pt);
\draw[con,tip] ([yshift=-6pt]landfrid.north west) -- ([xshift=3pt,yshift=-6pt]karlm.north east);
\draw[con,tip] (theutbald.south) -- ([xshift=6pt]pippin.north west);
\draw[con] ([xshift=8pt]odilo.south west) -- ([xshift=8pt]tassilo.north west);
\draw[con] (tassilo.south west) -- (hiltrud.north east);
\draw[gold] ([xshift=12pt]gotfrid.south west) -- ++(0,-4pt) -| ([xshift=12pt]huoching.north west);
\draw[gold] ([xshift=12pt]huoching.south west) -- ([xshift=13pt]nebi.north west);
\draw[gold] ([xshift=13pt]nebi.south west) -- ([xshift=12pt]imma.north west);
\draw[gold] ([xshift=12pt]imma.south west) -- ++(0,-5pt) -| ([xshift=10pt]hildegard.north west);
\draw[con] ([xshift=5pt]gerold.north west) -- ++(0,5pt);
\vl[con]{udI}{udII}
\vl[gold]{hildegard}{ludfr}
\draw[vsw] (karlgr.east) -- (hildegard.west);
\vl[con]{pippin}{karlgr}
\vl[gold]{ludfr}{gisela1}
\draw[con] ([xshift=5pt]luddt.north west) -- ++(0,5pt) -| ([xshift=10pt]gisela1.north west);
\vl[con]{luddt}{karlmann2}
\vl[con]{karlmann2}{arnulf}
\vl[con]{gisela1}{judith}
\vl[con]{judith}{gisela2}
\vl[con]{adalbE}{burchart0}
\draw[con] ([xshift=5pt]adalbA.north west) -- ++(0,3pt);
\vl[con]{adalbA}{adalbE}
\draw[gold,tip] (ludK.north east) -- (gisela2.south west);
\draw[con,tip] (gisela2.south) -- ([xshift=6pt]reginlint.north west);
\draw[vsw] (reginlint.east) -- (burI.west);
\draw[dd,tip] (erchanger.east) .. controls (470,372) and (560,372) .. (burI.south west);
% second dash-dot line
\coordinate (l2w) at (155,218);
\coordinate (l2e) at (622,218);
\draw[dd] ([xshift=8pt]udIII.north west) -- (l2w) -- (l2e) -- ([xshift=6pt]nA1.north west);
\draw[dd,tip] (l2w) -- ([xshift=8pt]udIII.north west);
\jnc{jm1}{287}{218}\jnc{jm2}{549}{218}
\draw[dd] ([xshift=5pt]hupI.south west) -- ([xshift=8pt]hupII.north west);
\draw[vsw] (hupII.east) -- (nHc.west);
\vl[con]{hupII}{thietIII}
\vl[con]{thietIII}{hupIV}
\vl[con]{hupIV}{richina}
\vl[con]{richina}{hupIb}
\vl[con]{hupIb}{manegI}
\vl[con]{manegI}{hupIIb}
\vl[con]{hupIIb}{manegB}
\draw[vsw] (hupIIb.east) -- (nHd.west);
\draw[con] ([xshift=5pt]manegI.south west) ++(0,-20pt) -| ([xshift=5pt]nHd.north west);
% Udalrichinger
\vl[dsh]{udIII}{udIV}
\vl[con]{udIV}{udV}
\vl[con]{udV}{udVI}
\vl[con]{udVI}{adalbU}
\vl[con]{adalbU}{marqI}
\vl[dsh]{marqI}{marqII}
\draw[dd] ([xshift=5pt]marqII.south west) -- ([xshift=5pt,yshift=4pt]marqII.south west |- udIX.north west);
\draw[dd] ([xshift=5pt]udIX.north west) -- ++(0,4pt) -| ([xshift=5pt]ottoIP.north west);
\vl[con]{udIX}{udX}
\vl[con]{ottoIP}{ottoIIP}
% Hartman column
\vl[dsh]{hart1}{nH1}
\vl[dsh]{nH1}{hart2}
\draw[orl] ([xshift=7pt]hart2.south west) -- ([xshift=7pt]hart2.south west |- hartI.north west);
\draw[con,<->,gray,line width=0.8pt] (hart3.east) .. controls (270,490) and (300,490) .. (manegI.south east);
% third dash-dot line
\coordinate (l3w) at (23,454);
\coordinate (l3e) at (655,454);
\draw[dd] (l3e) -- (l3w);
\draw[dd,tip] (l3w) -- ([xshift=11pt]lbWer.north west);
\jnc{jl1}{152}{454}\jnc{jl2}{231}{454}\jnc{jl3}{287}{454}\jnc{jl4}{500}{454}
% main gold line of the Dillingen succession
\coordinate (gy) at (82,513);
\draw[gold] ([xshift=8pt]richlint.south west) |- (gy) -- ([xshift=5pt]luitpold.north west);
\jnc{jg1}{152}{513}\jnc{jg2}{231}{513}\jnc{jg3}{287}{513}\jnc{jg4}{318}{513}\jnc{jg5}{366}{513}\jnc{jg6}{392}{513}
\foreach \c in {heinr2,chuono,judith3,ita2} {\draw[con] ([xshift=5pt]\c.north west) -- ++(0,10pt);}
\draw[gold] (ita1.west) -- ++(-30pt,0) |- ([xshift=6pt]richlint.north west);
\draw[gold] ([xshift=30pt]hermI.south west) -- ([xshift=2pt]ita1.north west);
\draw[cyl,tip] (liudolf.south west) .. controls (400,440) and (372,450) .. (berchtR.north east);
\draw[cyl] ([xshift=3pt]nR2.south west) .. controls (380,545) and (520,545) .. (hermII.south);
% Werdenberger
\vl[con]{manW}{ebboIV}
\vl[con]{ebboIV}{eberI}
\draw[vsw] (eberI.east) -- (ita.west);
\vl[ydl]{luitpold}{wernher}
\vl[ydl]{wernher}{ita}
\draw[con] ([xshift=5pt]burIII.north west) -- ++(0,5pt) -| ([xshift=10pt]eberN.north west);
\draw[gold] ([xshift=10pt]ita.south west) -- ([xshift=10pt]eberN.north west);
\draw[gold] ([xshift=10pt]eberN.south west) -- ([xshift=10pt]haW.north west);
\draw[vsw] (nW.east) -- (haW.west);
\draw[bll] ([xshift=-25pt]haW.south west) -- ++(0,-118pt) -| ([xshift=4pt]ebbo.south west);
\draw[dd] ([xshift=-20pt]haW.south west) -- ++(0,-35pt) -| ([xshift=6pt]adalbE2.north west);
\draw[hgr,line width=0.8pt,tip] ([xshift=20pt]burIII.south west) -- ++(0,-30pt) -- ([xshift=6pt]e4.south west);
% Kirchberg beginnings
\coordinate (oc1) at (310,705);
\draw[orl] ([xshift=8pt]hartIk.north west) |- (oc1) -- ([xshift=2pt]nH4.south west);
\draw[vsw] (nH3.east) -- (hartI.west);
\draw[gold] ([xshift=8pt]hartIIk.north west) -- ++(0,5pt) -| ([xshift=8pt]eberIk.north west);
\draw[big] ([xshift=10pt]hartBz.south west) -- ([xshift=10pt]hartBz.south west |- lbDil.north west);
\draw[hcy!80!blue,line width=0.6pt,tip] (hartIk.east) .. controls (250,800) and (360,840) .. (e1167.west);
\draw[dgr!80!hgr,line width=0.8pt,tip] (adalbE2.south) .. controls (150,850) and (330,850) .. (e1167.south west);
\draw[gB,line width=0.7pt,tip] (hartIk.east) .. controls (200,740) and (230,760) .. (eAuf.west);
\draw[gB,line width=0.7pt,tip] (hartBz.south) -- (eAuf.north east);
\coordinate (pc1) at (479,843);
\draw[pyl] ([xshift=8pt]eberIk.south west) |- (pc1) -- ([xshift=8pt]e1167.south);
% Dillingen / Werd / Salier
\vl[con]{hupIIc}{hartIr}
\vl[con]{hartIr}{hartIIr}
\draw[big] ([xshift=14pt]hartIIr.south west) -- ++(0,-22pt);
\draw[con] ([xshift=12pt]manIb.south west) |- ([xshift=5pt,yshift=6pt]manII.north west) -- ([xshift=5pt]manII.north west);
\vl[con]{manII}{manIII}
\vl[con]{manIII}{manIV}
\vl[con]{manIV}{rupert}
\draw[con] (manIII.east) -- ([xshift=6pt]maech.north west);
\draw[con] ([xshift=6pt]maech.north west) ++(0,12pt) -| ([xshift=8pt]wernher2.north west);
\coordinate (sa) at (350,792);
\draw[con,tip,rounded corners=4pt] ([xshift=10pt]sophie.south west) |- (sa);
\draw[con] (rudO.south east) -- (mathilde.north west);
\brk{heinII}{judM}{heinrIV}
\tk{mathilde}
\vl[con]{heinrIV}{heinrV}
\vl[cyl]{mathilde}{berchta2}
\draw[cyl] ([xshift=10pt]berchta2.south west) -- ([xshift=10pt]rudB.north west);
\draw[con] ([xshift=10pt]rudB.north west) ++(0,5pt) -| ([xshift=5pt]adelB.north west);
\tk{heinB}\tk{ulrB}
\vl[con]{adelB}{rudB2}
\draw[mag,line width=0.8pt,tip] (rudB.west) -- (e1167.north east);
\draw[ydl] ([xshift=5pt]gisela4.north west) -- ++(0,10pt);
\vl[con]{gisela3}{nG}
\draw[con] (nG.east) -- (sophie.west);
\draw[con,tip] ([xshift=6pt]chuono.south west) -- ([xshift=8pt]lbOhn.north west);
\draw[con,tip] ([xshift=4pt]ita2.south west) -- ([xshift=6pt]lbWelf.north west);
\vl[con]{chuono2}{rudO}
\vl[ydl]{gerberga2}{ottoIII}
\draw[con] ([xshift=5pt]gisela6.south west) -- ([xshift=5pt,yshift=4pt]gisela6.south west |- heinII.north west);
\draw[con] ([xshift=5pt]heinII.north west) -- ++(0,4pt) -| ([xshift=5pt]hermIV.north west);
\tk{ernstII}
\draw[con] ([xshift=5pt]gerberga2.north west) -- ++(0,6pt) -| ([xshift=5pt]hermIII.north west);
\draw[con] ([xshift=5pt]gisela6.north west) -- ++(0,6pt);
\draw[cyl] ([xshift=12pt]hermII.south west) -- ++(0,-40pt) -| ([xshift=12pt]gisela6.north west);
\vl[con]{heinR}{heinR2}
% Ottonen and Burchardinger
\draw[con] ([xshift=20pt]ottoGr.south west) -- ([xshift=20pt,yshift=5pt]ottoGr.south west |- liutgart.north west);
\draw[con] ([xshift=5pt]liutgart.north west) -- ++(0,5pt) -| ([xshift=5pt]liudolf.north west);
\draw[big] (ottoGr.east) ++(10pt,0) -- ++(0,-38pt) -- (liudolf.east);
\vl[con]{liudolf}{ottoIb}
\vl[con]{liutgart}{ottoW}
\vl[con]{ottoW}{konII2}
\draw[vsw] (liudolf.east) ++(14pt,-2pt) -- ([yshift=-2pt]ita1.west);
\vl[con]{rudR}{bercht1}
\vl[con]{bercht1}{bercht2}
\vl[con]{bercht2}{adalbR}
\vl[con]{adalbR}{berchtR}
\vl[con]{berchtR}{adalbR2}
\coordinate (g1) at (582,347);
\coordinate (g3) at (635,395);
\coordinate (g4) at (635,452);
\draw[gold] (g1) |- (g3) -- (g4) -| ([xshift=10pt]konII.north west);
\draw[con] ([xshift=5pt]giselaM.north west) -- ++(0,8pt) -| ([xshift=5pt]berchta1.north west);
\draw[con] ([xshift=5pt]burII.north west) -- ++(0,8pt);
\vl[ydl]{konII}{gerberga}
\draw[con] (konII.east) -- (adelM.west);
\draw[vsw] (adelM.east) -- (ottoGr2.west);
\vl[con]{ottoGr2}{gisela5}
\vl[con]{heinM}{heinR}
% ---------------- lower half connectors ----------------
\vl[bll]{eberB}{eberIIg}
\draw[con] ([xshift=5pt]eberB.south west) ++(0,-8pt) -| ([xshift=8pt]swigII.north west);
\vl[bll]{eberIIg}{eberIIIg}
\draw[con] ([xshift=5pt]eberIIg.south west) ++(0,-8pt) -| ([xshift=10pt]swigII.south west);
\draw[bll] ([xshift=5pt]eberIIIg.south west) -- ++(0,-10pt) -| ([xshift=5pt]ulrIg.north west);
\vl[ydl]{eberIIIg}{eberIVg}
\vl[dsh]{eberIVg}{hugo}
\draw[dsh] ([xshift=5pt]eberIVg.south west) ++(0,-14pt) -- ++(35pt,0);
\vl[bll]{ulrIg}{berchtolt}
\draw[con,tip] (hugo.east) -- (berchtolt.west);
\draw[bll] ([xshift=5pt]berchtolt.south west) -- ++(0,-6pt) -| ([xshift=5pt]luitG.north west);
\draw[ydl] ([xshift=5pt]berchtolt.south west) ++(0,-6pt) -| ([xshift=5pt]anna.north west);
\draw[ydl] ([xshift=5pt]berchtolt.south west) ++(0,-6pt) -| ([xshift=5pt]ursula.north west);
\draw[gold,tip] (toechter.north east) -- ([xshift=-4pt]anna.south);
\draw[gold] (anna.east) -- ([xshift=-8pt]brunoII.south east) -- (wilII.west);
\draw[con] (anna.east) -- ([xshift=-8pt]brunoII.south east);
\brk{ottoIIk}{eberIIk}{rudK}
\tk{conrat1}\tk{ottoIII2}
\vl[con]{eberIIk}{conIk}
\draw[con] ([xshift=5pt]conIk.south west) -- ([xshift=5pt,yshift=4pt]conIk.south west |- conIIk.north west);
\draw[con] ([xshift=5pt]conIIk.north west) -- ++(0,4pt) -| ([xshift=5pt]eberIIIk.north west);
\tk{bruno}
\vl[con]{ottoIVk}{hartV}
\vl[con]{conIIk}{conIVk}
\vl[con]{conIVk}{brunoII}
\vl[con]{brunoII}{wilI}
\vl[con]{wilI}{agnes}
\draw[big] ([xshift=5pt]agnes.south west) -- ([xshift=5pt]agnes.south west |- lbGoe.north west);
\draw[con] ([xshift=20pt]eberIIIk.south west) -- ++(0,-8pt) -| ([xshift=20pt]conIIIk.north west);
\draw[con] ([xshift=20pt]eberIIIk.south west) ++(0,-8pt) -| ([xshift=6pt]luitK.north west);
\vl[gold]{conIIIk}{eberIVk}
\vl[pyl]{eberIVk}{wilII}
\vl[pyl]{wilII}{conVII}
\vl[pyl]{conVII}{eberVI}
\vl[pyl]{eberVI}{eberVII}
\draw[con] ([xshift=12pt]eberVII.north west) ++(0,6pt) -| ([xshift=8pt]conVIII.north west);
\node[P,text=black!70] (vermael) at (140,1323) {vermählung};
\vl[con]{conVIII}{wilIII}
\draw[con] ([xshift=12pt]philipps.north west) ++(0,12pt) -| ([xshift=8pt]walburg.north west);
\vl[ydl]{eberVII}{philipps}
\vl[ydl]{philipps}{appol}
\vl[con]{walburg}{schweick}
\draw[ydl,tip] (appol.west) -- (schweick.east);
\draw[gold,tip] (schweick.south east) -- (erhartII.west);
\draw[pyl,tip] (erhartI.west) -- (philipps.east);
\draw[pyl,tip] (eberVII.east) -- (erhartI.north west);
\vl[pyl]{buchEb}{buchL}
\vl[pyl]{buchL}{heinL}
\vl[pyl]{heinL}{buch2}
\vl[pyl]{buch2}{kinder}
\draw[pyl,tip] ([xshift=5pt]kinder.south west) -- ([xshift=14pt]erhartI.north west);
\vl[con]{erhartI}{lienhart}
\vl[con]{lienhart}{erhartII}
\draw[big] ([xshift=26pt]erhartII.south west) -- ([xshift=26pt]erhartII.south west |- lbVoe.north west);
\draw[dgr,line width=1.5pt,tip] (wbox.north west) ++(8pt,0) -- ([xshift=-6pt]buchEb.south east);
\draw[dgr,line width=1.5pt,tip] ([xshift=20pt]adelK.south west) -- ([xshift=4pt]wbox.north west);
% right side, lower half
\draw[con] ([xshift=5pt]conratB.north west) -- ++(0,6pt);
\draw[gold] ([xshift=10pt]hartIIIdA.south west) -- ++(0,-8pt) -| ([xshift=8pt]hartdJ.north west);
\draw[gold] ([xshift=8pt]hartdJ.south west) -- ([xshift=8pt]hartdJ.south west |- nS.north west);
\draw[pyl] ([xshift=10pt]hartIIIdA.south west) ++(0,-8pt) -- ([xshift=10pt]willibirg.north west);
\draw[dd] ([xshift=5pt]ottoIII2.south west) -- ++(0,-5pt) -| ([xshift=5pt]ottoK.north west);
\vl[con]{ottoIII2}{hartIV}
\vl[con]{rudK}{berchtaK}
\vl[pyl]{willibirg}{hartW}
\draw[con] ([xshift=10pt]willibirg.south west) ++(0,-5pt) -| ([xshift=5pt]ludIII.north west);
\vl[con]{hartIV}{ottoV}
\draw[vsw] (ottoV.east) -- (nV.west);
\draw[pyl] ([xshift=10pt]hartW.south west) -- ([xshift=10pt]herman.north west);
\draw[con] ([xshift=10pt]hartW.south west) ++(0,-6pt) -| ([xshift=5pt]heinW.north west);
\draw[vsw] (conIs.east) -- (nS.west);
\draw[con] ([xshift=5pt]ottoV.south west) -- ++(0,-10pt) -| ([xshift=4pt]nO.north west);
\draw[con] ([xshift=5pt]ottoV.south west) -- ([xshift=5pt]ottoVI.north west);
\draw[line width=1.3pt] (hartV.east) -- (nKon.north west);
\draw[pyl] ([xshift=10pt]herman.south west) -- ++(0,-8pt) -| ([xshift=10pt]ulrStift.north west);
\draw[con] ([xshift=10pt]herman.south west) ++(0,-8pt) -| ([xshift=5pt]eberhard.north west);
\vl[gold]{conIs}{hartIs}
\draw[gold] ([xshift=10pt]hartIs.south west) -- ++(0,-14pt) -| ([xshift=8pt]eberIs.north west);
\draw[con] ([xshift=10pt]hartIs.south west) ++(0,-14pt) -| ([xshift=5pt]conIIs.north west);
\vl[gold]{eberIs}{eberIIs}
\draw[con] ([xshift=8pt]eberIs.south west) ++(0,-5pt) -| ([xshift=5pt]conIVs.north west);
\draw[big] ([xshift=8pt]eberIIs.south west) -- ([xshift=8pt]eberIIs.south west |- lbLim.north west);
\vl[con]{ottoVI}{hartVI}
\vl[con]{nO}{ottoIX}
\vl[con]{ulrStift}{nU}
\coordinate (dl1) at (232,1106);
\draw[line width=1.4pt,dash pattern=on 6pt off 2pt] (dl1) -- (nU.west);
\jnc{jb1}{361}{1106}\jnc{jb2}{409}{1106}
\vl[con]{hartVI}{adelK}
\draw[con] ([xshift=8pt]adelK.south west) ++(0,-12pt) -| ([xshift=8pt]konIV.north west);
\draw[gold,tip] (eberIIs.west) -- (conIIIk.south east);
\end{pgfonlayer}

% ---------------- legend ----------------
\draw[line width=1.8pt,dash pattern=on 1.6pt off 1.6pt] (453,1276) rectangle (652,1610);
\node[anchor=west,inner sep=0pt,font=\fontsize{4.6}{5}\selectfont\bfseries] (lgT) at (469,1293) {Legende};
\draw[con] (471,1306) -- (502,1306);
\node[LG] (lg1) at (507,1306) {Nachkommen, Ehen};
\draw[dsh] (471,1317) -- (502,1317);
\node[LG] (lg2) at (507,1317) {unsichere Abstammung};
\draw[line width=1.8pt] (471,1328) -- (487,1328) (491,1328) -- (502,1328);
\draw[line width=0.5pt] (487,1329) -- (491,1329);
\node[LG] (lg3) at (507,1328) {Verwandtschaft};
\draw[con] (471,1339) -- (484,1339) (491,1339) -- (502,1339);
\fill (487.5,1340) circle (0.6pt);
\node[LG] (lg4) at (507,1339) {mutmaßliche Verwandtschaft bzw. unsichere Verwandtschaft};
\draw[line width=0.8pt,dash pattern=on 4pt off 2pt] (471,1350) -- (502,1350);
\node[LG] (lg5) at (507,1350) {mutmaßliche Abstammung};
\draw[line width=2pt,-{Triangle[length=9pt,width=9pt]}] (471,1361) -- (503,1361);
\node[LG] (lg6) at (507,1361) {Übertragung / Besitzübergang};
\draw[line width=1.4pt,black!70,-{Triangle[length=6pt,width=7pt]}] (471,1372) -- (502,1372);
\node[LG] (lg7) at (507,1372) {Übertragung einer Vogtei};
\draw[gold] (471,1383) -- (502,1383);
\node[LG] (lg8) at (507,1383) {Folge der Herrschaft bzw. der Lehensherren Dillingen};
\draw[ydl] (471,1393) -- (502,1393);
\node[LG] (lg9) at (507,1393) {Folge der Titel einzelner Welfen in Bregenz};
\draw[cyl] (471,1404) -- (502,1404);
\node[LG] (lg10) at (507,1404) {Folge der Herrschaft der Grafen von Kirchberg};
\draw[orl] (471,1416) -- (502,1416);
\node[LG] (lg11) at (507,1416) {Folge der Inhaber von Gütern im Raum Dillingen};
\draw[pyl] (471,1427) -- (502,1427);
\node[LG] (lg12) at (507,1427) {Folge der Titel von Kirchberg bzw. Vöhlin};
\draw[bll] (471,1438) -- (502,1438);
\node[LG] (lg13) at (507,1438) {Folge der der Herrschaft Rotenberg};
\node[jn,minimum width=5pt,minimum height=4pt] (lgJ) at (474,1449) {};
\node[LG] (lg14) at (507,1449) {unmittelbare Stammfolge mit abzweigenden Linien};
\node[LG] (lgS15) at (470,1460) {† / {\symfont ⚔}};
\node[LG] (lg15) at (507,1460) {Sterbejahr / Sterbejahr bei Tod in Schlacht};
\node[LG] (lgS16) at (470,1472) {∞};
\node[LG] (lg16) at (507,1472) {Stammvater und Stammmutter im Mannesstamm};
\node[LG] (lgS17) at (470,1482) {N};
\node[LG] (lg17) at (507,1482) {namentlich unbekannter männlicher Nachkomme};
\node[LG] (lgS18) at (470,1493) {N\textsuperscript{w}};
\node[LG] (lg18) at (507,1493) {namentlich unbekannter weiblicher Nachkomme};
\node[LG] (lgS19) at (470,1504) {[ ]};
\node[LG] (lg19) at (507,1504) {mutmaßliche/r Nachkomme/n};
\node[LG] (lgS20) at (470,1514) {T. v.};
\node[LG] (lg20) at (507,1514) {Tochter von};
\node[LG] (lgS21) at (470,1527) {Wwe. v.};
\node[LG] (lg21) at (507,1527) {Witwe von};
\node[LG] (lgS22) at (470,1537) {Kl.};
\node[LG] (lg22) at (507,1537) {Kloster};
\node[LG] (lgS23) at (470,1548) {Gf. / Gfn};
\node[LG] (lg23) at (507,1548) {Graf / Gräfin};
\node[LG] (lgS24) at (470,1559) {Hft};
\node[LG] (lg24) at (507,1559) {Herrschaft};
\node[LG] (lgS25) at (470,1570) {Mgf / Pfgf};
\node[LG] (lg25) at (507,1570) {Markgraf / Pfalzgraf};
\node[LG] (lgS26) at (470,1582) {Hz.};
\node[LG] (lg26) at (507,1582) {Herzog};
\node[LG] (lgS27) at (470,1592) {Kg.};
\node[LG] (lg27) at (507,1592) {König};
\node[LG] (lgS28) at (470,1603) {Ks.};
\node[LG] (lg28) at (507,1603) {Kaiser};
\end{tikzpicture}
\end{document}
